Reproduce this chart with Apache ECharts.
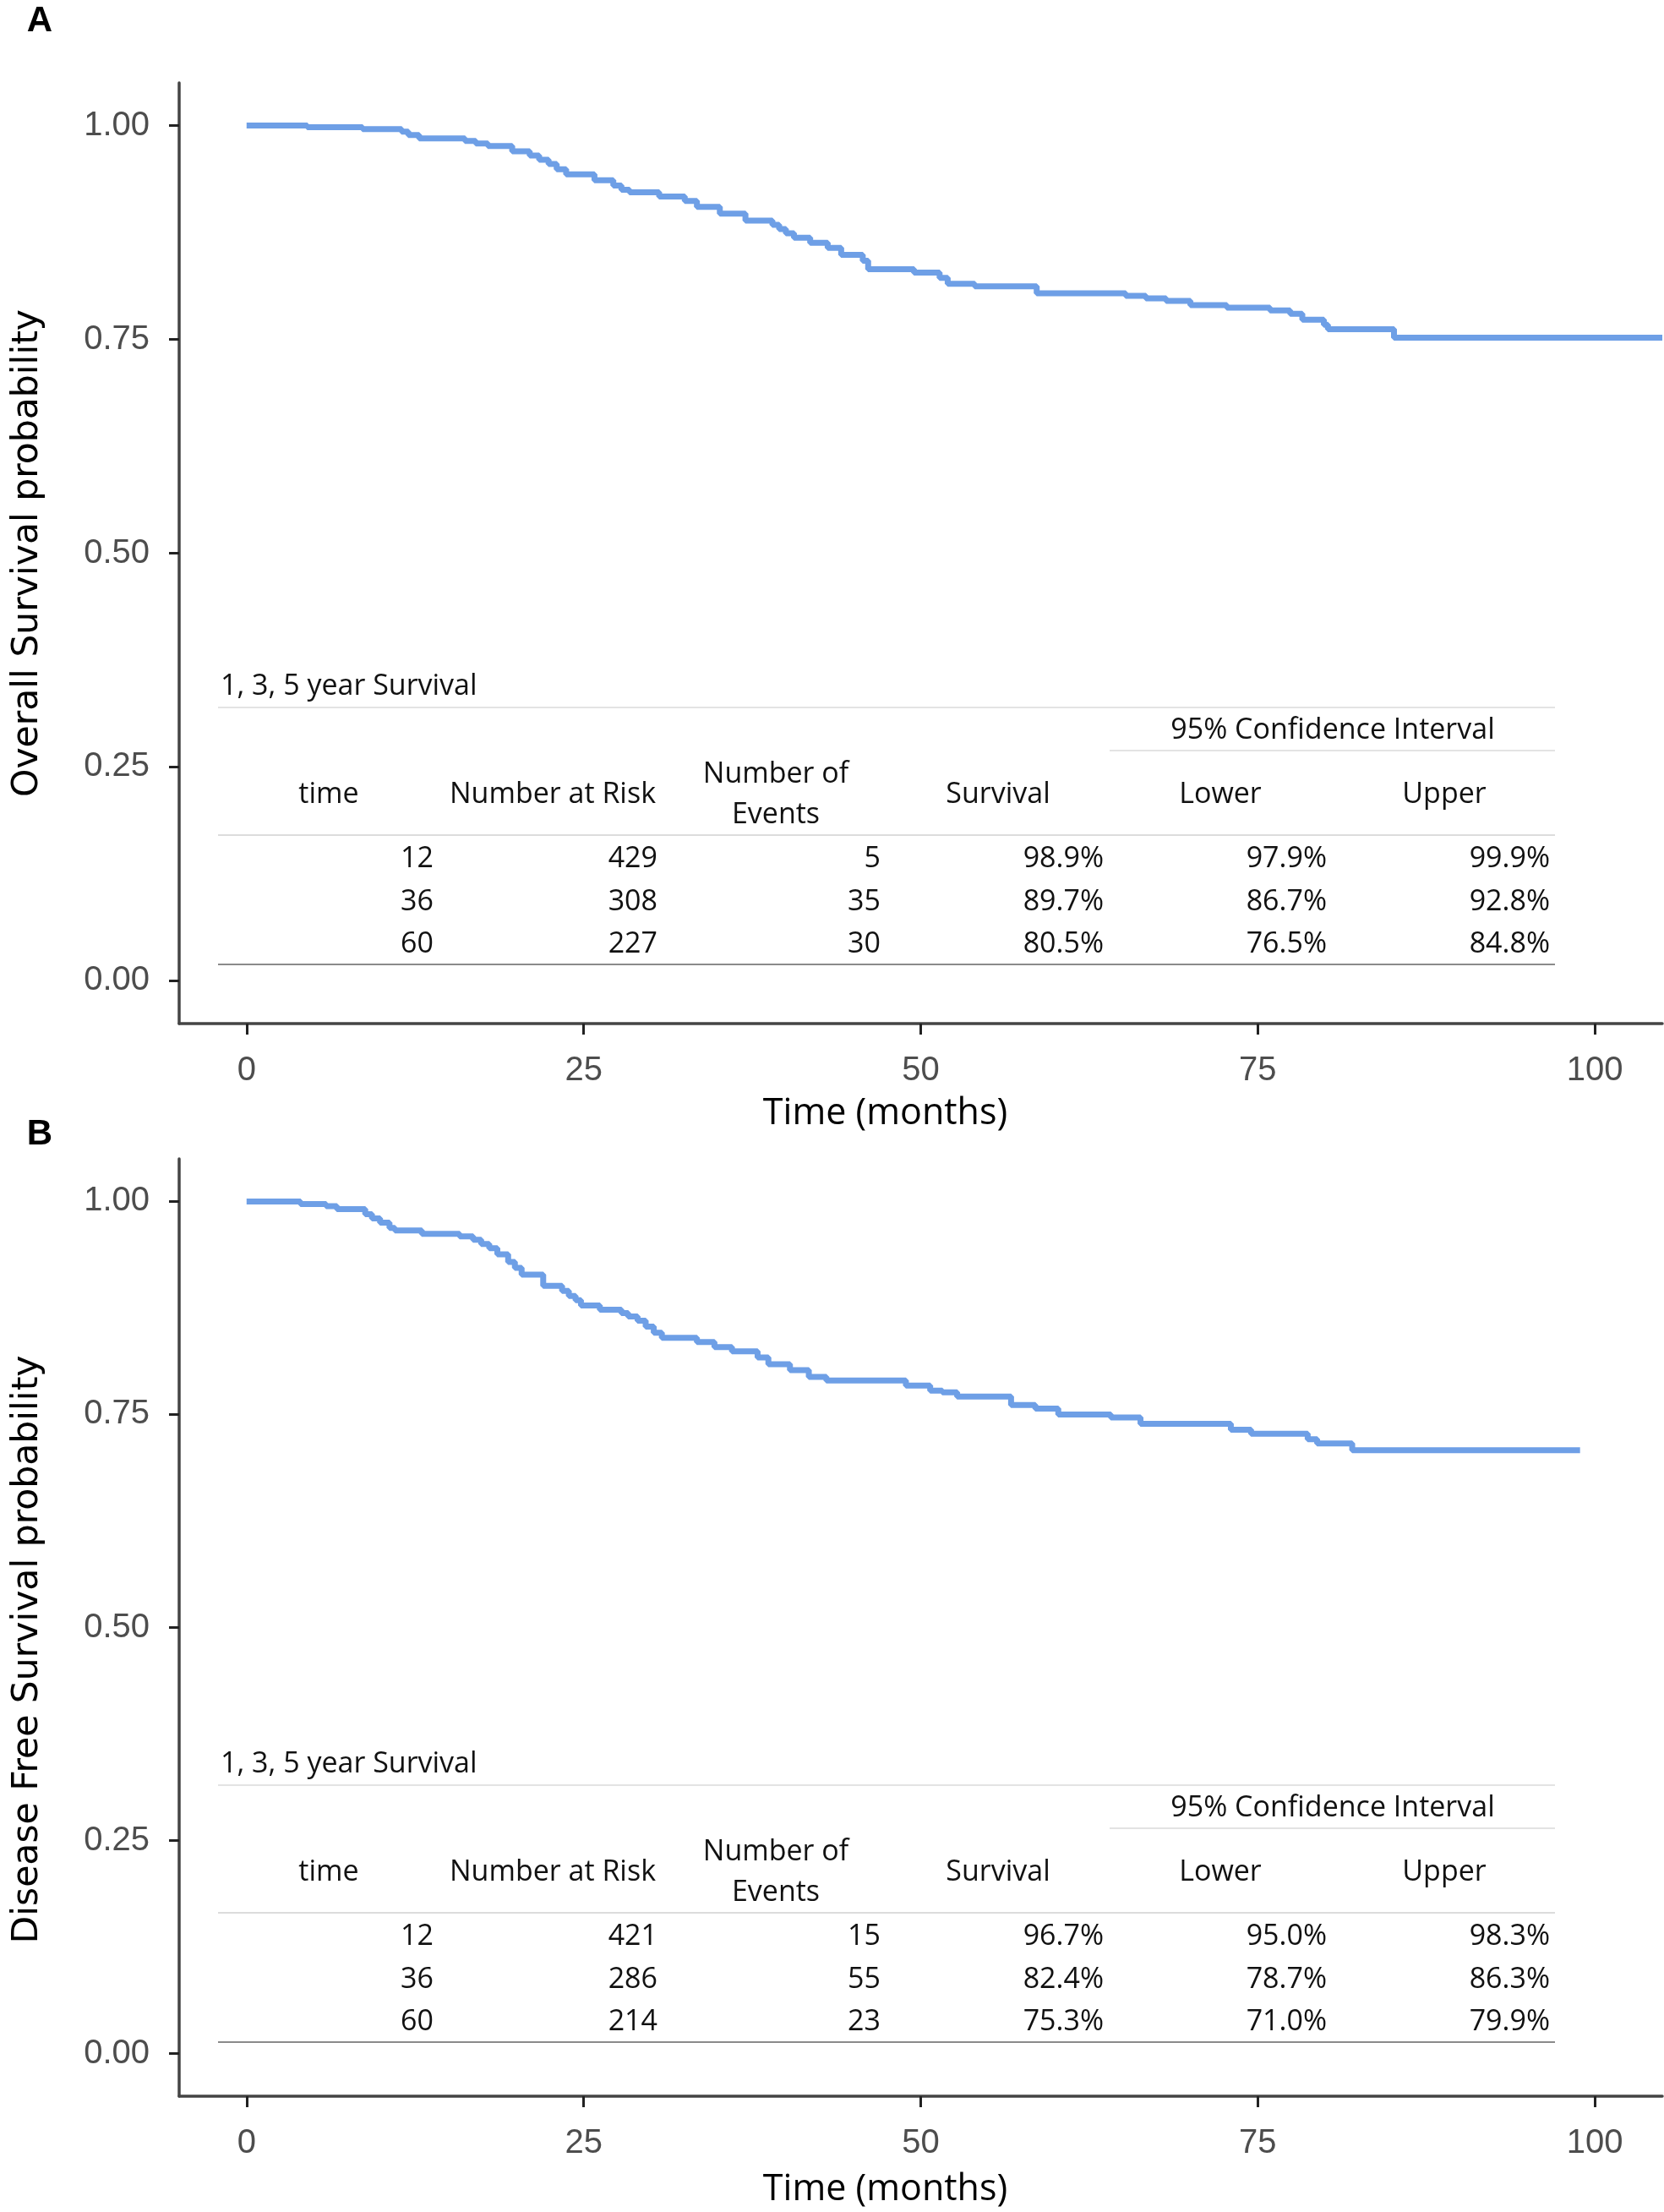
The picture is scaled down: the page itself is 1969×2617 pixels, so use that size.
<!DOCTYPE html>
<html>
<head>
<meta charset="utf-8">
<script src="https://cdn.jsdelivr.net/npm/echarts@6/dist/echarts.min.js"></script>
<style>
html,body{margin:0;padding:0;background:#fff;}
#chart{width:1969px;height:2617px;}
</style>
</head>
<body>
<div id="chart"></div>
<script>
// ---------------- DATA ----------------
const panelLabels = ['A', 'B'];
const yTitles = ['Overall Survival probability', 'Disease Free Survival probability'];
const xTitle = 'Time (months)';
const xTicks = [0, 25, 50, 75, 100];
const yTicks = [0, 0.25, 0.5, 0.75, 1];

// Panel A: overall survival (Kaplan-Meier steps: time of event, survival after it)
const timesA = [0, 4.5, 8.6, 11.5, 12.0, 12.8, 16.2, 17.0, 17.9, 19.7, 21.0, 21.7, 22.4, 23.0, 23.7, 25.8, 27.2, 27.8, 28.4, 30.6, 32.5, 33.4, 35.1, 37.0, 39.0, 39.5, 40.0, 40.6, 41.8, 43.1, 44.1, 45.7, 46.1, 49.5, 51.4, 52.0, 54.0, 58.6, 65.2, 66.7, 68.2, 70.0, 72.7, 75.9, 77.4, 78.3, 79.9, 80.2, 85.1, 105];
const survA  = [1.000, 0.998, 0.996, 0.993, 0.989, 0.985, 0.982, 0.979, 0.976, 0.970, 0.965, 0.960, 0.955, 0.949, 0.943, 0.936, 0.930, 0.925, 0.922, 0.917, 0.912, 0.905, 0.897, 0.889, 0.884, 0.879, 0.874, 0.869, 0.863, 0.857, 0.849, 0.842, 0.832, 0.828, 0.822, 0.815, 0.812, 0.804, 0.801, 0.798, 0.795, 0.790, 0.787, 0.784, 0.780, 0.773, 0.767, 0.762, 0.752, 0.752];

// Panel B: disease free survival
const timesB = [0, 4.0, 5.9, 6.7, 8.8, 9.3, 9.9, 10.6, 11.0, 13.0, 15.8, 16.8, 17.4, 18.0, 18.6, 19.4, 19.9, 20.4, 22.0, 23.4, 23.9, 24.4, 24.8, 26.2, 27.8, 28.3, 29.0, 29.6, 30.2, 30.8, 33.4, 34.7, 36.0, 37.9, 38.7, 40.3, 41.7, 43.0, 48.9, 50.7, 51.6, 52.7, 56.7, 58.5, 60.2, 64.1, 66.3, 73.0, 74.5, 78.7, 79.4, 82.0, 98.9];
const survB  = [1.000, 0.997, 0.9945, 0.991, 0.985, 0.980, 0.975, 0.969, 0.966, 0.962, 0.959, 0.955, 0.950, 0.945, 0.938, 0.929, 0.922, 0.914, 0.901, 0.895, 0.889, 0.884, 0.878, 0.873, 0.869, 0.865, 0.860, 0.853, 0.846, 0.840, 0.835, 0.829, 0.824, 0.817, 0.809, 0.802, 0.794, 0.790, 0.784, 0.778, 0.776, 0.771, 0.761, 0.757, 0.750, 0.7465, 0.739, 0.732, 0.7275, 0.721, 0.716, 0.708, 0.708];

// Tables
const tableTitle = '1, 3, 5 year Survival';
const ciTitle = '95% Confidence Interval';
const tableHeaders = ['time', 'Number at Risk', 'Number of\nEvents', 'Survival', 'Lower', 'Upper'];
const tableA = [
  ['12', '429', '5',  '98.9%', '97.9%', '99.9%'],
  ['36', '308', '35', '89.7%', '86.7%', '92.8%'],
  ['60', '227', '30', '80.5%', '76.5%', '84.8%']
];
const tableB = [
  ['12', '421', '15', '96.7%', '95.0%', '98.3%'],
  ['36', '286', '55', '82.4%', '78.7%', '86.3%'],
  ['60', '214', '23', '75.3%', '71.0%', '79.9%']
];

// ---------------- LAYOUT / STYLE ----------------
const lineColor = '#6e9fe6';
const grids = [
  {left: 209, top: 98, width: 1758, height: 1113},
  {left: 209, top: 1371, width: 1758, height: 1113}
];
const tableLayout = {
  titleX: 261, titleY: 812,
  line1Y: 837, lineX0: 258, lineX1: 1840,
  ciX: 1577, ciY: 864, ciLineX0: 1313, ciLineY: 888,
  headY: 940, headX: [389, 654, 918, 1181, 1444, 1709],
  line3Y: 988,
  rowY: [1016, 1067, 1117], colRight: [513, 778, 1042, 1306, 1570, 1834],
  bottomY: 1141
};
const tableOffsets = [0, 1275];
const tableFont = '"Open Sans", "Noto Sans", sans-serif';

const chart = echarts.init(document.getElementById('chart'), null, {renderer: 'canvas'});

function xAxisCfg(i, gap) {
  return {
    type: 'value', gridIndex: i, min: -5, max: 105,
    name: xTitle, nameLocation: 'middle', nameGap: gap,
    nameTextStyle: {fontFamily: tableFont, fontSize: 43, color: '#000', lineHeight: 50, padding: [0, 84, 0, 0]},
    axisLine: {show: true, onZero: false, lineStyle: {color: '#444', width: 3.5}},
    axisTick: {show: true, inside: false, length: 13, lineStyle: {color: '#222', width: 3}, customValues: xTicks},
    axisLabel: {show: true, margin: 36, fontSize: 40, color: '#4d4d4d', fontFamily: '"Liberation Sans", Arial, sans-serif', customValues: xTicks},
    splitLine: {show: false}
  };
}
function yAxisCfg(i, padding) {
  return {
    type: 'value', gridIndex: i, min: -0.05, max: 1.05,
    name: yTitles[i], nameLocation: 'middle', nameGap: 154,
    nameTextStyle: {fontFamily: '"DejaVu Sans", sans-serif', fontSize: 42.5, color: '#000', lineHeight: 50, padding: padding},
    axisLine: {show: true, onZero: false, lineStyle: {color: '#444', width: 3.5}},
    axisTick: {show: true, inside: false, length: 12, lineStyle: {color: '#222', width: 3}, customValues: yTicks},
    axisLabel: {show: true, margin: 35, fontSize: 40, color: '#4d4d4d', fontFamily: '"Liberation Sans", Arial, sans-serif',
      customValues: yTicks, formatter: v => v.toFixed(2)},
    splitLine: {show: false}
  };
}

function buildTable(rows, dy) {
  const T = tableLayout;
  const els = [];
  const txt = (text, x, y, align) => ({
    type: 'text', silent: true,
    style: {text: text, x: x, y: y + dy, fill: '#111', fontSize: 34, fontFamily: tableFont,
      align: align, verticalAlign: 'middle', lineHeight: 48}
  });
  const hline = (x0, x1, y, color, w) => ({
    type: 'line', silent: true,
    shape: {x1: x0, y1: y + dy, x2: x1, y2: y + dy},
    style: {stroke: color, lineWidth: w}
  });
  els.push(txt(tableTitle, T.titleX, T.titleY, 'left'));
  els.push(hline(T.lineX0, T.lineX1, T.line1Y, '#e3e3e3', 2));
  els.push(txt(ciTitle, T.ciX, T.ciY, 'center'));
  els.push(hline(T.ciLineX0, T.lineX1, T.ciLineY, '#e3e3e3', 2));
  tableHeaders.forEach((h, j) => els.push(txt(h, T.headX[j], T.headY, 'center')));
  els.push(hline(T.lineX0, T.lineX1, T.line3Y, '#dcdcdc', 2));
  rows.forEach((r, i) => r.forEach((c, j) => els.push(txt(c, T.colRight[j], T.rowY[i], 'right'))));
  els.push(hline(T.lineX0, T.lineX1, T.bottomY, '#8a8a8a', 2));
  return els;
}

const graphics = [];
panelLabels.forEach((lab, i) => {
  graphics.push({type: 'text', silent: true,
    style: {text: lab, x: 47, y: i === 0 ? 25 : 1342, fill: '#000', fontSize: 42, fontWeight: 'bold',
      fontFamily: '"Liberation Sans", Arial, sans-serif', align: 'center', verticalAlign: 'middle'}});
});
buildTable(tableA, tableOffsets[0]).forEach(e => graphics.push(e));
buildTable(tableB, tableOffsets[1]).forEach(e => graphics.push(e));

const option = {
  backgroundColor: '#fff',
  animation: false,
  grid: grids,
  xAxis: [xAxisCfg(0, 82), xAxisCfg(1, 86)],
  yAxis: [yAxisCfg(0, [0, 0, 0, 0]), yAxisCfg(1, [0, 52, 0, 0])],
  series: [
    {type: 'line', xAxisIndex: 0, yAxisIndex: 0, step: 'end', showSymbol: false,
      data: timesA.map((t, k) => [t, survA[k]]),
      lineStyle: {color: lineColor, width: 7}, itemStyle: {color: lineColor}},
    {type: 'line', xAxisIndex: 1, yAxisIndex: 1, step: 'end', showSymbol: false,
      data: timesB.map((t, k) => [t, survB[k]]),
      lineStyle: {color: lineColor, width: 7}, itemStyle: {color: lineColor}}
  ],
  graphic: graphics
};
chart.setOption(option);
</script>
</body>
</html>
